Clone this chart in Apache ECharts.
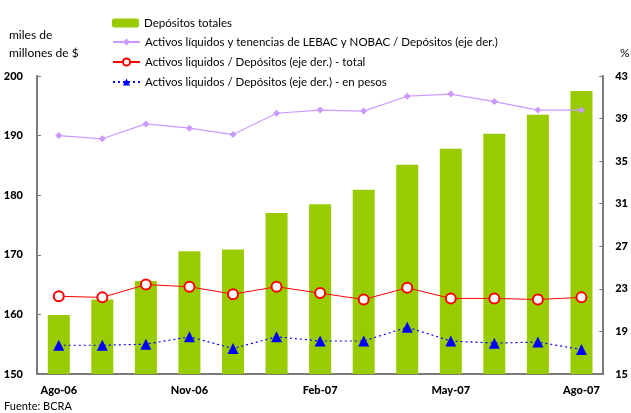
<!DOCTYPE html>
<html>
<head>
<meta charset="utf-8">
<script src="https://cdn.jsdelivr.net/npm/echarts@6/dist/echarts.min.js"></script>
<style>
  html, body { margin: 0; padding: 0; background: #fff; }
  #chart { width: 631px; height: 413px; }
</style>
</head>
<body>
<div id="chart"></div>
<script>
// datos (BCRA)
var meses = ['Ago-06', 'Sep-06', 'Oct-06', 'Nov-06', 'Dic-06', 'Ene-07', 'Feb-07',
             'Mar-07', 'Abr-07', 'May-07', 'Jun-07', 'Jul-07', 'Ago-07'];
var depositosTotales = [159.9, 162.5, 165.6, 170.6, 170.9, 177.0, 178.5,
                        180.9, 185.1, 187.8, 190.3, 193.5, 197.5];
var activosLebacNobac = [37.4, 37.1, 38.5, 38.1, 37.5, 39.5, 39.8,
                         39.7, 41.1, 41.3, 40.6, 39.8, 39.8];
var activosTotal = [22.3, 22.2, 23.4, 23.2, 22.5, 23.2, 22.6,
                    22.0, 23.1, 22.1, 22.1, 22.0, 22.2];
var activosPesos = [17.7, 17.7, 17.8, 18.5, 17.4, 18.5, 18.1,
                    18.1, 19.4, 18.1, 17.9, 18.0, 17.3];

var nombres = [
  'Depósitos totales',
  'Activos líquidos y tenencias de LEBAC y NOBAC / Depósitos (eje der.)',
  'Activos liquidos / Depósitos (eje der.) - total',
  'Activos liquidos / Depósitos (eje der.) - en pesos'
];

var fuente = 'Lato, "DejaVu Sans", sans-serif';
var gris = '#7a7a7a';

function leyenda(nombre, top) {
  return {
    data: [nombre], left: 107, top: top,
    itemWidth: 27, itemHeight: 9, itemGap: 0,
    textStyle: { fontFamily: fuente, fontSize: 11.5, color: '#000' },
    selectedMode: false
  };
}

var chart = echarts.init(document.getElementById('chart'));
chart.setOption({
  animation: false,
  grid: { left: 37, right: 26, top: 76, bottom: 39 },
  legend: [
    leyenda(nombres[0], 12),
    leyenda(nombres[1], 31),
    leyenda(nombres[2], 51),
    leyenda(nombres[3], 71)
  ],
  graphic: [
    { type: 'text', left: 9, top: 29, style: { text: 'miles de', font: '12px ' + fuente, fill: '#000' } },
    { type: 'text', left: 9, top: 47, style: { text: 'millones de $', font: '12px ' + fuente, fill: '#000' } },
    { type: 'text', left: 620, top: 47, style: { text: '%', font: '12px ' + fuente, fill: '#000' } },
    { type: 'text', left: 4, top: 401, style: { text: 'Fuente: BCRA', font: '11px ' + fuente, fill: '#000' } }
  ],
  xAxis: {
    type: 'category',
    data: meses,
    axisLine: { lineStyle: { color: gris, width: 2 } },
    axisTick: { show: false },
    axisLabel: { interval: 2, margin: 11, fontFamily: fuente, fontSize: 11, fontWeight: 900, color: '#000' }
  },
  yAxis: [
    {
      type: 'value', min: 150, max: 200, interval: 10,
      axisLine: { show: true, lineStyle: { color: gris, width: 2 } },
      axisTick: { show: true, inside: true, length: 4, lineStyle: { color: gris } },
      splitLine: { show: false },
      axisLabel: { margin: 14, fontFamily: fuente, fontSize: 11, fontWeight: 900, color: '#000' }
    },
    {
      type: 'value', min: 15, max: 43, interval: 4,
      axisLine: { show: true, lineStyle: { color: gris, width: 2 } },
      axisTick: { show: true, inside: true, length: 4, lineStyle: { color: gris } },
      splitLine: { show: false },
      axisLabel: { margin: 12, fontFamily: fuente, fontSize: 11, fontWeight: 900, color: '#000' }
    }
  ],
  series: [
    {
      name: nombres[0], type: 'bar', yAxisIndex: 0,
      data: depositosTotales, barWidth: 22,
      itemStyle: { color: '#99CC00' }
    },
    {
      name: nombres[1], type: 'line', yAxisIndex: 1,
      data: activosLebacNobac,
      symbol: 'diamond', symbolSize: 7,
      lineStyle: { color: '#CC99FF', width: 1.2 },
      itemStyle: { color: '#CC99FF' }
    },
    {
      name: nombres[2], type: 'line', yAxisIndex: 1,
      data: activosTotal,
      symbol: 'emptyCircle', symbolSize: 10,
      lineStyle: { color: '#FF0000', width: 1 },
      itemStyle: { color: '#FF0000', borderColor: '#FF0000', borderWidth: 1 }
    },
    {
      name: nombres[3], type: 'line', yAxisIndex: 1,
      data: activosPesos,
      symbol: 'triangle', symbolSize: 11,
      lineStyle: { color: '#0000FF', width: 1.2, type: [2, 3] },
      itemStyle: { color: '#0000FF' }
    }
  ]
});
</script>
</body>
</html>
